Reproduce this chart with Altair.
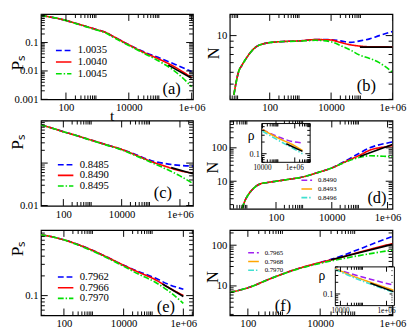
import altair as alt
import pandas as pd

SERIF = "Liberation Serif, Times New Roman, serif"
BLUE, RED, GREEN = "#0000ff", "#ff0000", "#00e000"
VIOLET, ORANGE, CYAN = "#a020f0", "#ffa500", "#40e0d0"
DASH, SOLID, DASHDOT = [6, 3], [1, 0], [6, 2, 1.5, 2]

# ---------------- panel (a): P_s vs t ----------------
A_NAMES = ["1.0035", "1.0040", "1.0045"]
A_T = [16, 30, 50, 100, 200, 560, 1000, 1800, 3000, 10000, 30000, 100000, 300000, 1000000]
A_BLUE = [0.9, 0.8, 0.72, 0.6, 0.48, 0.34, 0.28, 0.23, 0.17, 0.084, 0.047, 0.028, 0.017, 0.0095]
A_RED = [0.9, 0.8, 0.72, 0.6, 0.48, 0.34, 0.28, 0.23, 0.17, 0.083, 0.045, 0.025, 0.0135, 0.0058]
A_GREEN = [0.9, 0.8, 0.72, 0.6, 0.47, 0.33, 0.27, 0.22, 0.16, 0.079, 0.042, 0.021, 0.0095, 0.0028]
A_FIT_T = [180000, 1000000]
A_FIT = [0.016, 0.0055]

# ---------------- panel (b): N vs t ----------------
B_T = [6.8, 7.7, 9.8, 12.4, 17.8, 25.5, 36.5, 66, 195, 930, 3100, 10000, 20000, 43000, 87000, 180000, 370000, 1000000]
B_BLUE = [3.26, 3.9, 5.1, 5.7, 6.6, 7.45, 8.1, 8.6, 8.9, 9.05, 9.27, 9.25, 9.05, 8.8, 9.05, 9.4, 10.0, 10.8]
B_RED = [3.26, 3.9, 5.1, 5.7, 6.6, 7.45, 8.1, 8.6, 8.9, 9.05, 9.27, 9.2, 8.8, 8.4, 8.2, 8.1, 8.1, 8.05]
B_GREEN = [3.26, 3.9, 5.1, 5.7, 6.6, 7.45, 8.1, 8.6, 8.9, 9.0, 9.15, 8.9, 8.3, 7.6, 6.9, 6.5, 6.0, 5.0]
B_FIT_T = [87000, 1000000]
B_FIT = [8.05, 8.05]

# ---------------- panel (c): P_s vs t ----------------
C_NAMES = ["0.8485", "0.8490", "0.8495"]
C_T = [17, 40, 100, 300, 820, 3000, 10000, 30000, 100000, 300000, 1000000, 2800000]
C_BLUE = [0.79, 0.67, 0.55, 0.44, 0.355, 0.27, 0.21, 0.16, 0.115, 0.098, 0.088, 0.085]
C_RED = [0.79, 0.67, 0.55, 0.44, 0.355, 0.27, 0.21, 0.155, 0.11, 0.085, 0.066, 0.058]
C_GREEN = [0.79, 0.67, 0.55, 0.44, 0.35, 0.265, 0.205, 0.15, 0.105, 0.075, 0.05, 0.033]
C_FIT_T = [500000, 2800000]
C_FIT = [0.078, 0.056]

# ---------------- panel (d): N vs t, inset rho ----------------
D_T = [6, 8, 12, 18, 26, 50, 100, 300, 760, 3000, 10000, 30000, 100000, 230000, 1000000, 1500000]
D_BLUE = [1.5, 2.8, 4.8, 6.8, 8.2, 9.2, 10, 11.5, 13, 18, 25, 40, 70, 100, 140, 150]
D_RED = [1.5, 2.8, 4.8, 6.8, 8.2, 9.2, 10, 11.5, 13, 18, 25, 38, 60, 85, 110, 118]
D_GREEN = [1.5, 2.8, 4.8, 6.8, 8.2, 9.2, 10, 11.5, 13, 18, 25, 37, 52, 58, 55, 54]
D_FIT_T = [100000, 1500000]
D_FIT = [55, 125]
DI_NAMES = ["0.8490", "0.8493", "0.8496"]
DI_T = [10000, 100000, 1000000, 3000000]
DI_VIOLET = [0.42, 0.27, 0.2, 0.19]
DI_ORANGE = [0.42, 0.25, 0.16, 0.12]
DI_CYAN = [0.38, 0.22, 0.13, 0.1]
DI_FIT_T = [300000, 3000000]
DI_FIT = [0.18, 0.115]

# ---------------- panel (e): P_s vs t ----------------
E_NAMES = ["0.7962", "0.7966", "0.7970"]
E_T = [17, 40, 100, 300, 820, 3000, 10000, 30000, 115000, 300000, 1000000]
E_BLUE = [0.85, 0.79, 0.71, 0.6, 0.5, 0.38, 0.29, 0.235, 0.185, 0.15, 0.125]
E_RED = [0.85, 0.79, 0.71, 0.6, 0.5, 0.38, 0.29, 0.23, 0.175, 0.135, 0.1]
E_GREEN = [0.85, 0.79, 0.71, 0.59, 0.49, 0.37, 0.28, 0.215, 0.16, 0.12, 0.076]
E_FIT_T = [200000, 1000000]
E_FIT = [0.15, 0.097]

# ---------------- panel (f): N vs t, inset rho ----------------
F_T = [31.6, 100, 446, 2240, 10000, 38000, 100000, 300000, 1000000]
F_BLUE = [6.9, 9, 15.4, 26, 37.5, 54, 75, 110, 165]
F_RED = [6.9, 9, 15.4, 26, 37.5, 50, 64, 84, 109]
F_GREEN = [6.9, 9, 15.4, 25.5, 36, 46, 54, 64, 76]
F_FIT_T = [20000, 1000000]
F_FIT = [44, 105]
FI_NAMES = ["0.7965", "0.7968", "0.7970"]
FI_T = [6000, 30000, 200000, 2000000]
FI_VIOLET = [0.44, 0.33, 0.24, 0.17]
FI_ORANGE = [0.45, 0.3, 0.2, 0.125]
FI_CYAN = [0.43, 0.28, 0.18, 0.11]
FI_FIT_T = [200000, 2000000]
FI_FIT = [0.19, 0.115]

LBL = "datum.value >= 999999 ? '1e+06' : '' + datum.value"


def long_df(names, ts, vals):
    rows = []
    for n, t, v in zip(names, ts, vals):
        for a, b in zip(t, v):
            rows.append({"s": n, "t": a, "v": b})
    return pd.DataFrame(rows)


def powers(lo, hi, step=1):
    return [10.0 ** k for k in range(lo, hi + 1, step)]


def minors(lo, hi, step=1):
    return [m * 10.0 ** k for k in range(lo, hi + 1, step) for m in range(2, 10)]


def inside(vals, dom):
    return [v for v in vals if dom[0] <= v <= dom[1]]


def xrules(X, vals, y_top, y_bot, L):
    df = pd.DataFrame({"t": vals})
    base = alt.Chart(df).mark_rule(color="black", strokeWidth=1, clip=True)
    return [base.encode(x=X, y=alt.value(y_bot), y2=alt.value(y_bot - L)),
            base.encode(x=X, y=alt.value(y_top), y2=alt.value(y_top + L))]


def yrules(Y, vals, x_left, x_right, L):
    df = pd.DataFrame({"v": vals})
    base = alt.Chart(df).mark_rule(color="black", strokeWidth=1, clip=True)
    return [base.encode(y=Y, x=alt.value(x_left), x2=alt.value(x_left + L)),
            base.encode(y=Y, x=alt.value(x_right), x2=alt.value(x_right - L))]


def legend(x, y, fs, half, rowpad, size):
    # custom line symbol, wider than its layout box
    return alt.Legend(orient="none", legendX=x, legendY=y, title=None,
                      symbolType="M-%g,0H%g" % (half, half),
                      symbolSize=size, symbolStrokeWidth=1.6, labelFont=SERIF, labelFontSize=fs,
                      labelOffset=int(size ** 0.5 * (half - 1) / 2) + 5, rowPadding=rowpad, padding=0)


def panel(W, H, xdom, ydom, xlab, ylab, xmaj, xmin, ymaj, ymin, names, colors, ts, vals,
          fit_t, fit_v, leg, tag, tagxy, ytitle, ytxy, yts, xtitle=None, inset=None):
    xax = dict(values=xlab, labelExpr=LBL, labelFlush=False, labelOverlap=False,
               ticks=False, domain=False, grid=False, labelFont=SERIF, labelFontSize=11,
               labelColor="black", labelPadding=3)
    if xtitle:
        xax.update(title=xtitle, titleFont=SERIF, titleFontSize=16, titleFontWeight="normal",
                   titleX=73, titleY=17, titleAlign="center", titleBaseline="middle",
                   titleColor="black")
    else:
        xax.update(title=None)
    yax = dict(values=ylab, labelExpr=LBL, labelFlush=False, labelOverlap=False,
               labelBound=False, ticks=False, domain=False, grid=False, labelFont=SERIF,
               labelFontSize=11, labelColor="black", labelPadding=3, title=ytitle, titleFont=SERIF,
               titleFontSize=yts, titleFontWeight="normal", titleColor="black",
               titleX=ytxy[0], titleY=ytxy[1], titleAlign="center", titleBaseline="middle",
               titleAngle=270)
    X = alt.X("t:Q", scale=alt.Scale(type="log", domain=xdom), axis=alt.Axis(**xax))
    Y = alt.Y("v:Q", scale=alt.Scale(type="log", domain=ydom), axis=alt.Axis(**yax))
    df = long_df(names, ts, vals)
    cscale = alt.Scale(domain=names, range=colors)
    dscale = alt.Scale(domain=names, range=[DASH, SOLID, DASHDOT])
    lines = alt.Chart(df).mark_line(strokeWidth=1.7, interpolate="monotone", clip=True).encode(
        x=X, y=Y,
        color=alt.Color("s:N", scale=cscale, legend=leg, sort=names),
        strokeDash=alt.StrokeDash("s:N", scale=dscale, legend=leg, sort=names),
    )
    fit = alt.Chart(pd.DataFrame({"t": fit_t, "v": fit_v})).mark_line(
        color="black", strokeWidth=1.7, clip=True).encode(x=X, y=Y)
    layers = [lines, fit]
    layers += xrules(X, inside(xmaj, xdom), 0, H, 7)
    layers += xrules(X, inside(xmin, xdom), 0, H, 4)
    layers += yrules(Y, inside(ymaj, ydom), 0, W, 7)
    layers += yrules(Y, inside(ymin, ydom), 0, W, 4)
    tagc = alt.Chart(pd.DataFrame({"k": [tag]})).mark_text(
        font=SERIF, fontSize=17, align="center", baseline="middle", color="black").encode(
        x=alt.value(tagxy[0]), y=alt.value(tagxy[1]), text="k:N")
    layers.append(tagc)
    main = alt.layer(*layers)
    if inset is None:
        return main.properties(width=W, height=H)
    return alt.layer(main, inset).resolve_scale(
        x="independent", y="independent", color="independent", strokeDash="independent"
    ).properties(width=W, height=H)


def inset_chart(box, xdom, ydom, names, ts, vals, fit_t, fit_v, leg, xlab, ylab, rho_xy, xmaj, xmin, ymaj, ymin):
    x0, y0, x1, y1 = box
    Xi = alt.X("t:Q", scale=alt.Scale(type="log", domain=xdom, range=[x0, x1]), axis=None)
    Yi = alt.Y("v:Q", scale=alt.Scale(type="log", domain=ydom, range=[y1, y0]), axis=None)
    frame = alt.Chart(pd.DataFrame({"t": [xdom[0]], "t2": [xdom[1]], "v": [ydom[0]], "v2": [ydom[1]]})).mark_rect(
        fill="white", stroke="black", strokeWidth=1).encode(x=Xi, x2="t2:Q", y=Yi, y2="v2:Q")
    df = long_df(names, ts, vals)
    lines = alt.Chart(df).mark_line(strokeWidth=1.6, interpolate="monotone").encode(
        x=Xi, y=Yi,
        color=alt.Color("s:N", scale=alt.Scale(domain=names, range=[VIOLET, ORANGE, CYAN]), legend=leg, sort=names),
        strokeDash=alt.StrokeDash("s:N", scale=alt.Scale(domain=names, range=[DASH, SOLID, DASHDOT]), legend=leg, sort=names),
    )
    fit = alt.Chart(pd.DataFrame({"t": fit_t, "v": fit_v})).mark_line(color="black", strokeWidth=1.6).encode(x=Xi, y=Yi)
    layers = [frame, lines, fit]
    layers += xrules(Xi, inside(xmaj, xdom), y0, y1, 5)
    layers += xrules(Xi, inside(xmin, xdom), y0, y1, 3)
    layers += yrules(Yi, inside(ymaj, ydom), x0, x1, 5)
    layers += yrules(Yi, inside(ymin, ydom), x0, x1, 3)
    xl = alt.Chart(pd.DataFrame({"t": xlab})).transform_calculate(
        lab=LBL.replace("datum.value", "datum.t")).mark_text(
        font=SERIF, fontSize=7.5, baseline="top", color="black").encode(
        x=Xi, y=alt.value(y1 + 2), text="lab:N")
    yl = alt.Chart(pd.DataFrame({"v": ylab})).transform_calculate(
        lab=LBL.replace("datum.value", "datum.v")).mark_text(
        font=SERIF, fontSize=8.5, align="right", baseline="middle", color="black").encode(
        y=Yi, x=alt.value(x0 - 2), text="lab:N")
    rho = alt.Chart(pd.DataFrame({"k": ["\u03c1"]})).mark_text(
        font=SERIF, fontSize=14, align="center", baseline="middle", color="black").encode(
        x=alt.value(rho_xy[0]), y=alt.value(rho_xy[1]), text="k:N")
    return alt.layer(*(layers + [xl, yl, rho]))


WL, WR, H = 157, 168, 88
cols3 = [BLUE, RED, GREEN]

pa = panel(WL, H, [16, 1100000], [0.001, 1], [100, 10000, 1000000], [0.001, 0.01, 0.1],
           powers(0, 6, 2), minors(0, 6, 2), powers(-3, 0), minors(-3, -1),
           A_NAMES, cols3, [A_T, A_T, A_T], [A_BLUE, A_RED, A_GREEN], A_FIT_T, A_FIT,
           legend(18, 32, 11, 2, 0, 64), "(a)", (135, 77), "P\u209b", (-24, 50), 18, xtitle="t")

pb = panel(WR, H, [5, 1000000], [3, 15], [100, 10000, 1000000], [10],
           powers(0, 6, 2), minors(0, 6, 2), powers(0, 1), minors(0, 1),
           A_NAMES, cols3, [B_T, B_T, B_T], [B_BLUE, B_RED, B_GREEN], B_FIT_T, B_FIT,
           None, "(b)", (141, 74), "N", (-17, 40), 17)

pc = panel(WL, H, [17, 2800000], [0.0098, 1], [100, 10000, 1000000], [0.01],
           powers(0, 6, 2), minors(0, 6, 2), powers(-2, 0), minors(-2, -1),
           C_NAMES, cols3, [C_T, C_T, C_T], [C_BLUE, C_RED, C_GREEN], C_FIT_T, C_FIT,
           legend(20, 40, 11, 2, -1, 64), "(c)", (126, 75), "P\u209b", (-24, 22), 18)

insd = inset_chart((33, 3, 83, 43), [9000, 9000000], [0.06, 0.6], DI_NAMES,
                   [DI_T, DI_T, DI_T], [DI_VIOLET, DI_ORANGE, DI_CYAN], DI_FIT_T, DI_FIT,
                   legend(76, 58, 7, 2.2, 1, 25), [10000, 1000000], [0.1], (22, 16),
                   powers(4, 6, 2), minors(4, 6, 2), powers(-1, -1), minors(-2, -1))
pd_ = panel(WR, H + 3, [2.2, 1500000], [1.5, 650], [100, 10000, 1000000], [10, 100],
            powers(0, 6, 2), minors(0, 6, 2), powers(0, 2), minors(0, 2),
            C_NAMES, cols3, [D_T, D_T, D_T], [D_BLUE, D_RED, D_GREEN], D_FIT_T, D_FIT,
            None, "(d)", (152, 80), "N", (-18, 48), 17, inset=insd)

pe = panel(WL, H, [17, 2100000], [0.05, 1], [100, 10000, 1000000], [0.1],
           powers(0, 6, 2), minors(0, 6, 2), powers(-1, 0), minors(-2, -1),
           E_NAMES, cols3, [E_T, E_T, E_T], [E_BLUE, E_RED, E_GREEN], E_FIT_T, E_FIT,
           legend(20, 43, 11, 2, -1, 64), "(e)", (129, 80), "P\u209b", (-24, 19), 18)

insf = inset_chart((109, 38, 170, 78), [6000, 2200000], [0.05, 0.5], FI_NAMES,
                   [FI_T, FI_T, FI_T], [FI_VIOLET, FI_ORANGE, FI_CYAN], FI_FIT_T, FI_FIT,
                   legend(21, 20, 7, 2.2, 1, 25), [10000, 1000000], [0.1], (95, 48),
                   powers(4, 6, 2), minors(4, 6, 2), powers(-1, -1), minors(-2, -1))
pf = panel(WR, H, [31.6, 1000000], [1.9, 235], [100, 10000, 1000000], [10, 100],
           powers(0, 6, 2), minors(0, 6, 2), powers(0, 2), minors(0, 2),
           E_NAMES, cols3, [F_T, F_T, F_T], [F_BLUE, F_RED, F_GREEN], F_FIT_T, F_FIT,
           None, "(f)", (55, 79), "N", (-18, 48), 17, inset=insf)

chart = alt.concat(pa, pb, pc, pd_, pe, pf, columns=2, spacing={"row": 22, "column": 38},
                   bounds="flush", align="each").resolve_scale(
    x="independent", y="independent", color="independent", strokeDash="independent"
).resolve_legend(color="independent", strokeDash="independent").properties(
    padding=0, background="white"
).configure_view(stroke="black", strokeWidth=1.2).configure_legend(
    labelFont=SERIF, labelColor="black"
).configure_axis(labelFont=SERIF, titleFont=SERIF)

chart.save("out.html", embed_options={"renderer": "svg", "actions": False})
